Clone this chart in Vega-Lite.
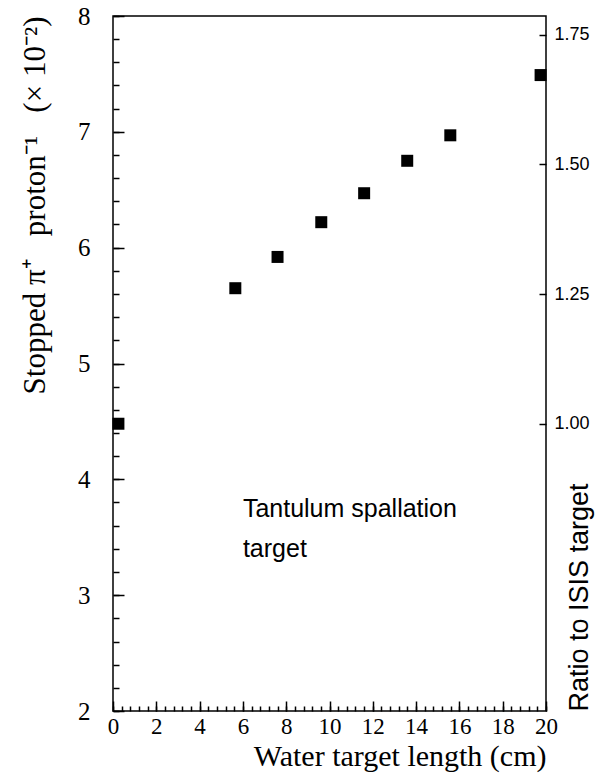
{
  "$schema": "https://vega.github.io/schema/vega-lite/v6.json",
  "autosize": "none",
  "width": 433,
  "height": 695,
  "padding": {"left": 113, "top": 16, "right": 51, "bottom": 70},
  "background": "white",
  "config": {
    "view": {"stroke": "black", "strokeWidth": 1.5},
    "axis": {"grid": false, "domain": false, "tickColor": "black", "labelColor": "black", "titleColor": "black", "tickWidth": 1.5}
  },
  "datasets": {
    "pts": [
      {"x": 0.25, "y": 4.48},
      {"x": 5.65, "y": 5.65},
      {"x": 7.6, "y": 5.92},
      {"x": 9.62, "y": 6.22},
      {"x": 11.6, "y": 6.47},
      {"x": 13.59, "y": 6.75},
      {"x": 15.58, "y": 6.97},
      {"x": 19.75, "y": 7.49}
    ],
    "note": [
      {"x": 6.0, "y": 3.674, "label": ["Tantulum spallation", "target"]}
    ]
  },
  "layer": [
    {
      "data": {"name": "pts"},
      "mark": {"type": "point", "shape": "square", "filled": true, "color": "black", "opacity": 1, "size": 144},
      "encoding": {
        "x": {"field": "x", "type": "quantitative", "scale": {"domain": [0, 20], "nice": false, "zero": false},
          "axis": {"orient": "bottom", "values": [0, 2, 4, 6, 8, 10, 12, 14, 16, 18, 20], "tickSize": -10, "labelPadding": 14,
            "labelFont": "Liberation Serif", "labelFontSize": 23, "labelFlush": false,
            "title": "Water target length (cm)", "titleFont": "Liberation Serif", "titleFontSize": 30, "titleFontWeight": "normal",
            "titleAnchor": "end", "titlePadding": 3}},
        "y": {"field": "y", "type": "quantitative", "scale": {"domain": [2, 8], "nice": false, "zero": false},
          "axis": {"orient": "left", "values": [2, 3, 4, 5, 6, 7, 8], "tickSize": -11, "labelPadding": 34,
            "labelFont": "Liberation Serif", "labelFontSize": 25, "labelFlush": false,
            "title": "Stopped π⁺\u2002 proton⁻¹\u2002 (× 10⁻²)", "titleFont": "Liberation Serif", "titleFontSize": 31, "titleFontWeight": "normal",
            "titleAnchor": "end", "titlePadding": 26}}
      }
    },
    {
      "data": {"name": "pts"},
      "mark": {"type": "point", "opacity": 0},
      "encoding": {
        "x": {"field": "x", "type": "quantitative", "scale": {"domain": [0, 20], "nice": false, "zero": false},
          "axis": {"orient": "bottom", "values": [0,0.4,0.8,1.2,1.6,2,2.4,2.8,3.2,3.6,4,4.4,4.8,5.2,5.6,6,6.4,6.8,7.2,7.6,8,8.4,8.8,9.2,9.6,10,10.4,10.8,11.2,11.6,12,12.4,12.8,13.2,13.6,14,14.4,14.8,15.2,15.6,16,16.4,16.8,17.2,17.6,18,18.4,18.8,19.2,19.6,20],
            "tickSize": -5, "labels": false, "title": null}},
        "y": {"field": "y", "type": "quantitative", "scale": {"domain": [2, 8], "nice": false, "zero": false},
          "axis": {"orient": "left", "values": [2,2.2,2.4,2.6,2.8,3,3.2,3.4,3.6,3.8,4,4.2,4.4,4.6,4.8,5,5.2,5.4,5.6,5.8,6,6.2,6.4,6.6,6.8,7,7.2,7.4,7.6,7.8,8],
            "tickSize": -6, "labels": false, "title": null}}
      }
    },
    {
      "data": {"name": "pts"},
      "mark": {"type": "point", "opacity": 0},
      "encoding": {
        "x": {"field": "x", "type": "quantitative", "scale": {"domain": [0, 20], "nice": false, "zero": false}, "axis": null},
        "y": {"field": "y", "type": "quantitative", "scale": {"domain": [2, 8], "nice": false, "zero": false},
          "axis": {"orient": "right", "values": [4.48, 5.6, 6.72, 7.84], "labelExpr": "format(datum.value / 4.48, '.2f')",
            "tickSize": -7, "labelPadding": 15,
            "labelFont": "Liberation Sans", "labelFontSize": 18, "labelFlush": false,
            "title": "Ratio to ISIS target", "titleFont": "Liberation Sans", "titleFontSize": 27, "titleFontWeight": "normal",
            "titleAngle": 270, "titleAnchor": "start", "titlePadding": 4}}
      }
    },
    {
      "data": {"name": "note"},
      "mark": {"type": "text", "align": "left", "baseline": "alphabetic", "font": "Liberation Sans", "fontSize": 25, "lineHeight": 40, "color": "black"},
      "encoding": {
        "x": {"field": "x", "type": "quantitative", "scale": {"domain": [0, 20], "nice": false, "zero": false}, "axis": null},
        "y": {"field": "y", "type": "quantitative", "scale": {"domain": [2, 8], "nice": false, "zero": false}, "axis": null},
        "text": {"field": "label"}
      }
    }
  ],
  "resolve": {"scale": {"x": "independent", "y": "independent"}, "axis": {"x": "independent", "y": "independent"}}
}
